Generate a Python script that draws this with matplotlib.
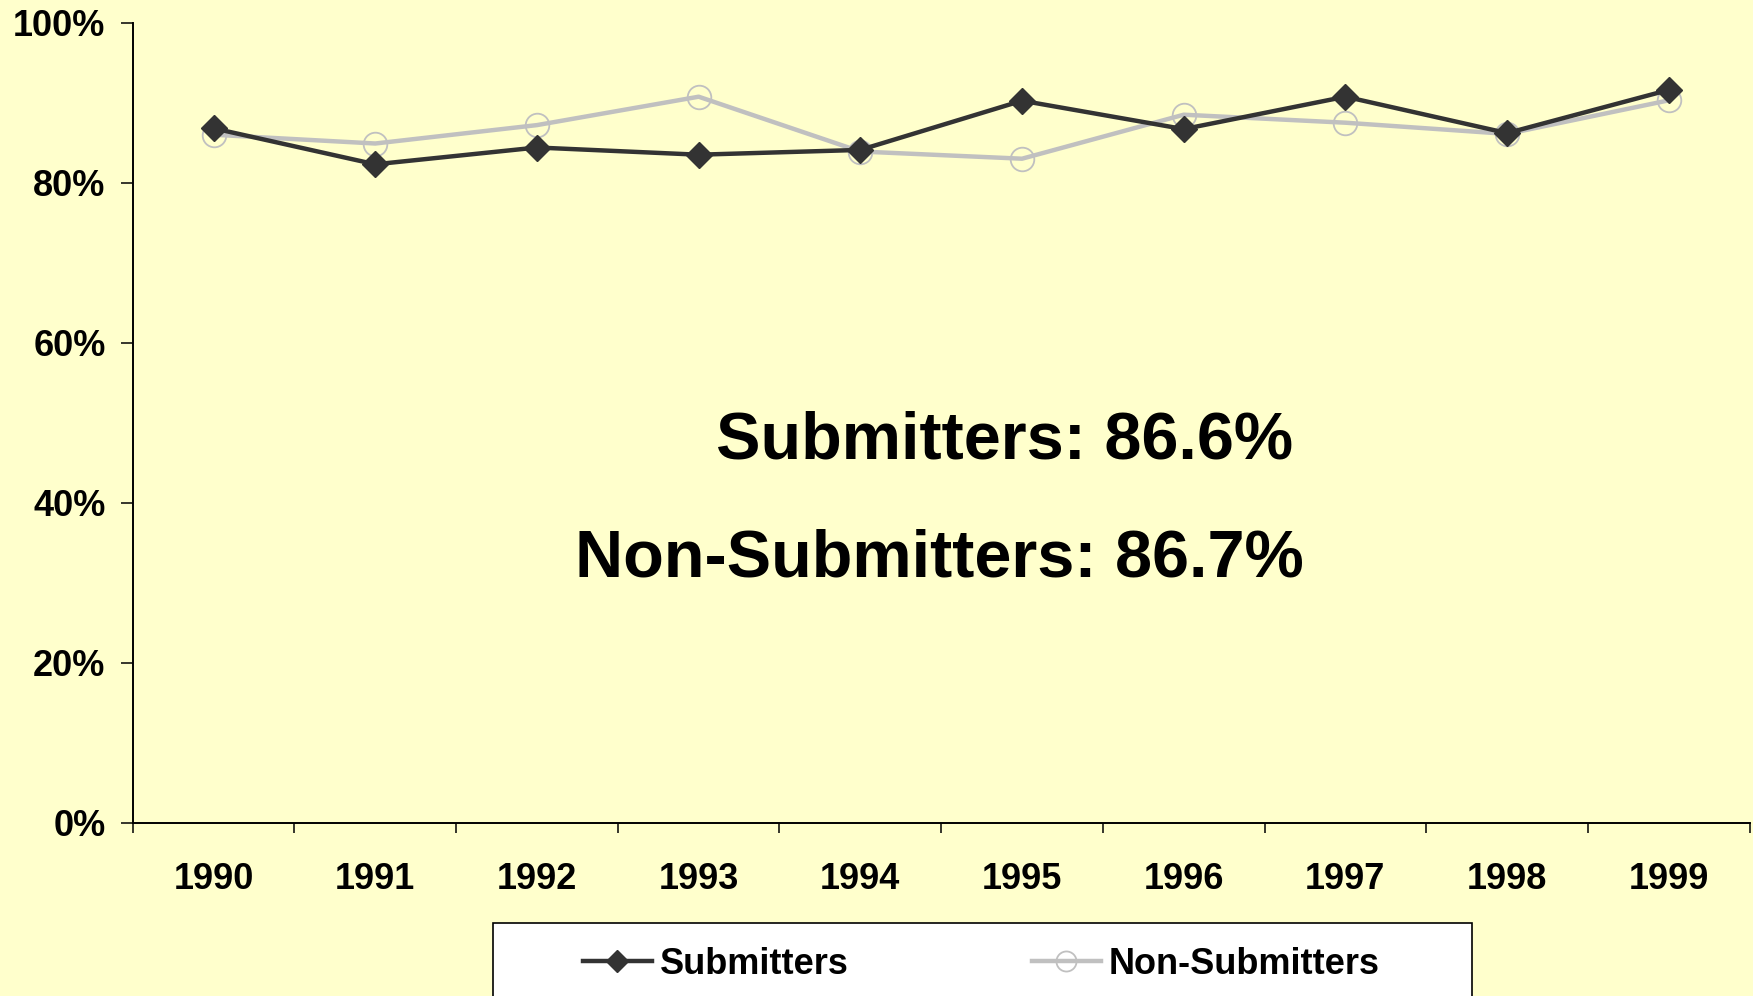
import matplotlib
matplotlib.use('Agg')
import matplotlib.pyplot as plt
from matplotlib.patches import Rectangle
import numpy as np

years = ['1990', '1991', '1992', '1993', '1994', '1995', '1996', '1997', '1998', '1999']
submitters = [86.8, 82.3, 84.4, 83.5, 84.1, 90.25, 86.7, 90.75, 86.2, 91.6]
non_submitters = [86.0, 84.9, 87.2, 90.75, 83.9, 83.0, 88.5, 87.5, 86.1, 90.3]
y_ticks = [0, 20, 40, 60, 80, 100]
y_labels = ['0%', '20%', '40%', '60%', '80%', '100%']
note_sub = 'Submitters: 86.6%'
note_non = 'Non-Submitters: 86.7%'

plt.rcParams['font.family'] = ['Liberation Sans', 'DejaVu Sans']
plt.rcParams['font.weight'] = 'bold'

bg = '#FFFFCC'
fig = plt.figure(figsize=(17.53, 9.96), dpi=100, facecolor=bg)
ax = fig.add_axes([0.0757, 0.174, 0.9224, 0.8032], facecolor=bg)

x = np.arange(len(years))
ax.plot(x, non_submitters, color='#C0C0C0', linewidth=3.2, marker='o', markersize=17,
        markerfacecolor='none', markeredgecolor='#C0C0C0', markeredgewidth=1.3,
        label='Non-Submitters', zorder=3)
ax.plot(x, submitters, color='#333333', linewidth=3.2, marker='D', markersize=13.5,
        markerfacecolor='#333333', markeredgecolor='#333333',
        label='Submitters', zorder=4)

ax.set_xlim(-0.5, len(years) - 0.5)
ax.set_ylim(0, 100)

ax.set_xticks(x)
ax.set_xticklabels(years, fontsize=26, fontweight='bold')
ax.set_xticks(np.arange(-0.5, len(years), 1), minor=True)
ax.tick_params(axis='x', which='major', length=0, pad=28.5)
ax.tick_params(axis='x', which='minor', length=7.5, width=1.1, direction='out')

ax.set_yticks(y_ticks)
ax.set_yticklabels(y_labels, fontsize=26, fontweight='bold')
ax.tick_params(axis='y', length=8.5, width=1.1, direction='out', pad=11)

for s in ['top', 'right']:
    ax.spines[s].set_visible(False)
for s in ['left', 'bottom']:
    ax.spines[s].set_linewidth(1.4)

ax.text(4.89, 45.55, note_sub, ha='center', va='baseline', fontsize=48, fontweight='bold')
ax.text(4.49, 30.75, note_non, ha='center', va='baseline', fontsize=48, fontweight='bold')

# legend box (runs off the bottom of the figure)
fig.patches.append(Rectangle((493 / 1753, -0.05), (1472 - 493) / 1753, 1 - 923 / 996 + 0.05,
                             transform=fig.transFigure, facecolor='white',
                             edgecolor='black', linewidth=1.2, zorder=1))

handles, labels = ax.get_legend_handles_labels()
fig.legend(handles[::-1], labels[::-1], loc='center left',
           bbox_to_anchor=(583 / 1753, 1 - 964 / 996), ncol=2, frameon=False,
           borderpad=0, borderaxespad=0, handlelength=1.91, handletextpad=0.22,
           columnspacing=5.07, markerscale=0.85,
           prop={'family': 'Liberation Sans', 'weight': 'bold', 'size': 26})

plt.savefig('out.png', dpi=100, facecolor=bg)
